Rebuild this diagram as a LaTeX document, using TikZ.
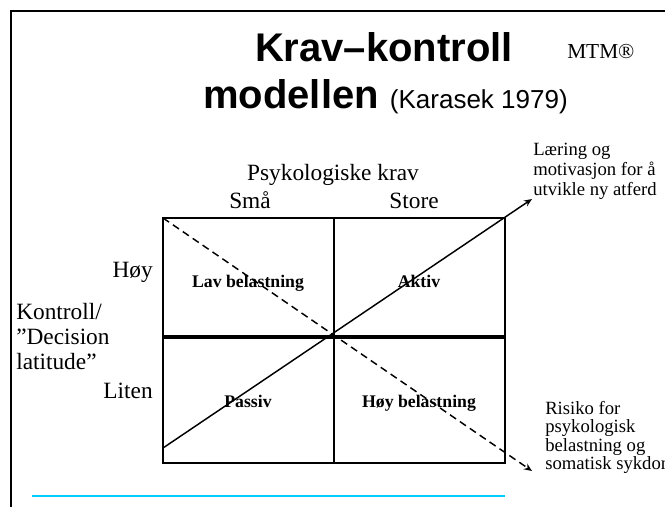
\documentclass[tikz,border=0pt]{standalone}
\usepackage{fontspec}
\setmainfont{Liberation Serif}
\newfontfamily\helv{Liberation Sans}
\usetikzlibrary{arrows.meta, positioning}

\definecolor{slideblue}{RGB}{0,204,255}

\tikzset{
  grid line/.style={line width=1.7pt},
  diag/.style={line width=1.1pt, -{Stealth[length=6pt,width=5pt]}},
  cell text/.style={font=\fontsize{13.3}{15}\selectfont\bfseries, inner sep=0, anchor=base},
  axis text/.style={font=\fontsize{17.5}{18.75}\selectfont, inner sep=0},
  note text/.style={font=\fontsize{14}{15}\selectfont, align=left, inner sep=0, anchor=north west},
}

\begin{document}
\begin{tikzpicture}[x=0.75pt,y=-0.75pt]
  \useasboundingbox (0,0) rectangle (665,507);
  \clip (0,0) rectangle (665,507);
  % slide frame, cut at right and bottom
  \draw[line width=0.8pt] (11,507) -- (11,11) -- (665,11);

  % heading
  \node[anchor=base, inner sep=0, font=\helv\fontsize{30}{36}\selectfont\bfseries] (title) at (384,61) {Krav–kontroll};
  \node[anchor=base west, inner sep=0, font=\helv\fontsize{30}{36}\selectfont\bfseries] (subtitle) at (203,108)
    {modellen {\mdseries\fontsize{19.5}{24}\selectfont (Karasek 1979)}};
  \node[anchor=base west, inner sep=0, font=\fontsize{16}{18}\selectfont] (mtm) at (567,58) {MTM®};

  % the four cells
  \coordinate (nw) at (163,218);
  \coordinate (se) at (505,463);
  \coordinate (n) at (334,218);
  \coordinate (s) at (334,463);
  \coordinate (w) at (163,337);
  \coordinate (e) at (505,337);
  \draw[grid line] (nw) rectangle (se);
  \draw[grid line] (n) -- (s);
  \draw[grid line, line width=2.3pt] (w) -- (e);

  % diagonals
  \coordinate (sw) at (163,448);
  \coordinate (learn) at (532,199);
  \coordinate (risk) at (532,471);
  \draw[diag] (sw) -- (learn);
  \draw[diag, dash pattern=on 5.5pt off 3.5pt] (nw) -- (risk);

  \node[cell text] (lav) at (248,287) {Lav belastning};
  \node[cell text] (aktiv) at (419,287) {Aktiv};
  \node[cell text] (passiv) at (248,407) {Passiv};
  \node[cell text] (hoybel) at (419,407) {Høy belastning};

  % axis labels
  \node[axis text, anchor=base] (krav) at (333,180) {Psykologiske krav};
  \node[axis text, anchor=base] (sma) at (250,208) {Små};
  \node[axis text, anchor=base] (store) at (414,208) {Store};
  \node[axis text, anchor=base east] (hoy) at (153,277) {Høy};
  \node[axis text, anchor=base east] (liten) at (153,398) {Liten};
  \node[axis text, align=left, anchor=north west] (kontroll) at (16,303) {Kontroll/\\”Decision\\latitude”};

  % notes at the arrow ends
  \node[note text] (learntxt) at (533,143) {Læring og\\motivasjon for å\\utvikle ny atferd};
  \node[note text, font=\fontsize{14}{13.75}\selectfont] (risktxt) at (545,401) {Risiko for\\psykologisk\\belastning og\\somatisk sykdom};

  % rule at the foot
  \coordinate (b1) at (32,496);
  \coordinate (b2) at (505,496);
  \draw[slideblue, line width=2.2pt] (b1) -- (b2);
\end{tikzpicture}
\end{document}
